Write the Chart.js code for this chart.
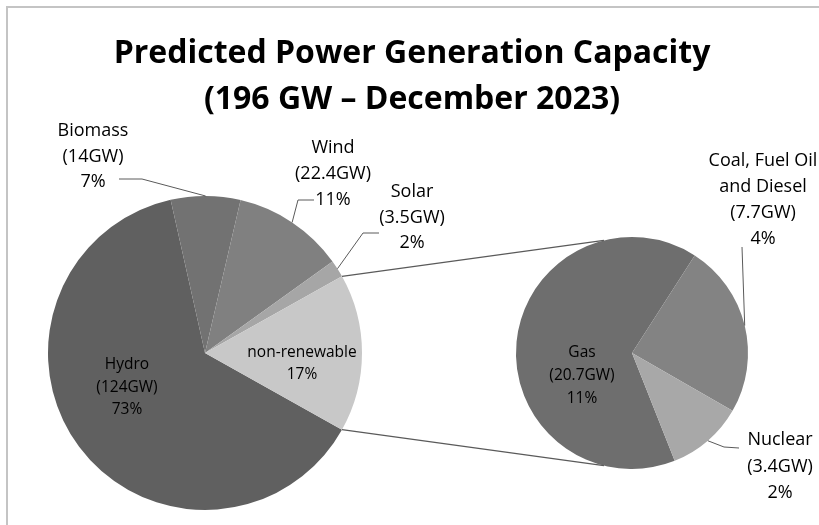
<!DOCTYPE html>
<html>
<head>
<meta charset="utf-8">
<title>Predicted Power Generation Capacity</title>
<script src="https://cdn.jsdelivr.net/npm/chart.js@4.4.0/dist/chart.umd.min.js"></script>
<style>
  html, body { margin: 0; padding: 0; background: #fff; }
  .wrap { position: relative; width: 819px; height: 525px; overflow: hidden; background: #fff; }
  .frame { position: absolute; left: 6px; top: 6px; right: -10px; bottom: -10px;
           border-left: 2px solid #c4c4c4; border-top: 2px solid #c4c4c4; }
  canvas { position: absolute; left: 0; top: 0; }
</style>
</head>
<body>
<div class="wrap">
  <div class="frame"></div>
  <canvas id="mainPie" width="819" height="525"></canvas>
  <canvas id="subPie" width="819" height="525"></canvas>
</div>
<script>
// main pie: renewables + the grouped non-renewable slice
const mainLabels = ['Hydro', 'Biomass', 'Wind', 'Solar', 'non-renewable'];
const mainValues = [124, 14, 22.4, 3.5, 31.8];
const mainPercents = ['73%', '7%', '11%', '2%', '17%'];
const mainColors = ['#606060', '#727272', '#808080', '#a6a6a6', '#c8c8c8'];

// secondary pie: breakdown of non-renewable
const subLabels = ['Gas', ['Coal, Fuel Oil', 'and Diesel'], 'Nuclear'];
const subValues = [20.7, 7.7, 3.4];
const subPercents = ['11%', '4%', '2%'];
const subColors = ['#6e6e6e', '#838383', '#a8a8a8'];

const titleLines = ['Predicted Power Generation Capacity', '(196 GW \u2013 December 2023)'];

const FONT = '"Open Sans", "Noto Sans", sans-serif';
const LINE = '#5a5a5a';

const mainTotal = mainValues.reduce((a, b) => a + b, 0);

const mainChart = new Chart(document.getElementById('mainPie'), {
  type: 'pie',
  data: {
    labels: mainLabels,
    datasets: [{ data: mainValues, backgroundColor: mainColors, borderWidth: 0 }]
  },
  options: {
    responsive: false,
    animation: false,
    // split slice sits centred on the right-hand side
    rotation: 90 + 180 * mainValues[4] / mainTotal,
    layout: { padding: { left: 48, right: 457, top: 196, bottom: 15 } },
    plugins: { legend: { display: false }, tooltip: { enabled: false } }
  }
});

// label placement (text block centre x, first line y, line gap, leader elbow points)
const mainPlace = [
  { x: 127, y: 365, gap: 22.5, size: 15.5, gw: true },
  { x: 93, y: 131, gap: 25.5, size: 18, gw: true, leader: [[142, 179], [119, 179]] },
  { x: 333, y: 148, gap: 26, size: 18, gw: true, leader: [[298, 200], [314, 200]] },
  { x: 412, y: 192, gap: 25.5, size: 18, gw: true, leader: [[363, 233], [379, 233]] },
  { x: 302, y: 353, gap: 22, size: 15.5, gw: false }
];
const subPlace = [
  { x: 582, y: 353, gap: 23, size: 15.5 },
  { x: 763, y: 161, gap: 26, size: 18, leader: [[742, 247]] },
  { x: 780, y: 440, gap: 26.5, size: 18, leader: [[724, 447], [739, 448]] }
];

function edge(arc, angle) {
  return [arc.x + Math.cos(angle) * arc.outerRadius, arc.y + Math.sin(angle) * arc.outerRadius];
}

function drawLabel(ctx, arc, place, lines) {
  if (place.leader) {
    const mid = (arc.startAngle + arc.endAngle) / 2;
    const p0 = edge(arc, mid);
    ctx.beginPath();
    ctx.moveTo(p0[0], p0[1]);
    place.leader.forEach(p => ctx.lineTo(p[0], p[1]));
    ctx.strokeStyle = LINE;
    ctx.lineWidth = 1;
    ctx.stroke();
  }
  ctx.font = place.size + 'px ' + FONT;
  ctx.fillStyle = '#000';
  ctx.textAlign = 'center';
  ctx.textBaseline = 'middle';
  lines.forEach((t, i) => ctx.fillText(t, place.x, place.y + i * place.gap));
}

const overlay = {
  id: 'overlay',
  afterDraw(chart) {
    const ctx = chart.ctx;
    const mainArcs = mainChart.getDatasetMeta(0).data;
    const subArcs = chart.getDatasetMeta(0).data;
    ctx.save();

    // title
    ctx.font = 'bold 32px ' + FONT;
    ctx.fillStyle = '#000';
    ctx.textAlign = 'center';
    ctx.textBaseline = 'alphabetic';
    ctx.fillText(titleLines[0], 412, 63);
    ctx.fillText(titleLines[1], 412, 109);

    // connector lines between the split slice and the secondary pie
    const split = mainArcs[4];
    const sub = subArcs[0];
    const tilt = 14 * Math.PI / 180;
    const a = edge(split, split.startAngle);
    const b = edge(split, split.endAngle);
    const c = [sub.x + Math.cos(-Math.PI / 2 - tilt) * sub.outerRadius, sub.y + Math.sin(-Math.PI / 2 - tilt) * sub.outerRadius];
    const d = [sub.x + Math.cos(Math.PI / 2 + tilt) * sub.outerRadius, sub.y + Math.sin(Math.PI / 2 + tilt) * sub.outerRadius];
    ctx.strokeStyle = LINE;
    ctx.lineWidth = 1.2;
    ctx.beginPath();
    ctx.moveTo(a[0], a[1]); ctx.lineTo(c[0], c[1]);
    ctx.moveTo(b[0], b[1]); ctx.lineTo(d[0], d[1]);
    ctx.stroke();

    // main pie labels
    mainArcs.forEach((arc, i) => {
      const p = mainPlace[i];
      const lines = [mainLabels[i]];
      if (p.gw) lines.push('(' + mainValues[i] + 'GW)');
      lines.push(mainPercents[i]);
      drawLabel(ctx, arc, p, lines);
    });

    // secondary pie labels
    subArcs.forEach((arc, i) => {
      const name = Array.isArray(subLabels[i]) ? subLabels[i] : [subLabels[i]];
      const lines = name.concat(['(' + subValues[i] + 'GW)', subPercents[i]]);
      drawLabel(ctx, arc, subPlace[i], lines);
    });

    ctx.restore();
  }
};

new Chart(document.getElementById('subPie'), {
  type: 'pie',
  data: {
    labels: subLabels,
    datasets: [{ data: subValues, backgroundColor: subColors, borderWidth: 0 }]
  },
  options: {
    responsive: false,
    animation: false,
    rotation: 158.4,
    layout: { padding: { left: 516, right: 71, top: 237, bottom: 56 } },
    plugins: { legend: { display: false }, tooltip: { enabled: false } }
  },
  plugins: [overlay]
});
</script>
</body>
</html>
